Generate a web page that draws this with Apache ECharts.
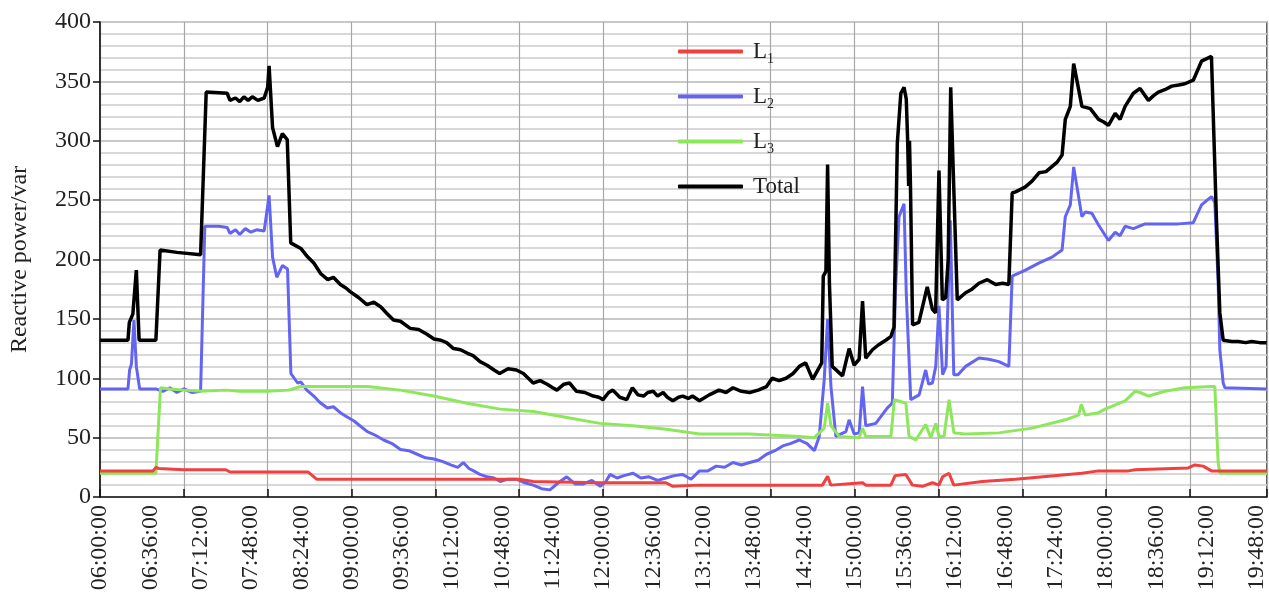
<!DOCTYPE html>
<html>
<head>
<meta charset="utf-8">
<script src="https://cdn.jsdelivr.net/npm/echarts@6/dist/echarts.min.js"></script>
<style>
html,body{margin:0;padding:0;background:#fff;}
#c{width:1269px;height:601px;}
</style>
</head>
<body>
<div id="c"></div>
<script>
// x values: minutes after 06:00:00
const tickLabels = ['06:00:00','06:36:00','07:12:00','07:48:00','08:24:00','09:00:00','09:36:00','10:12:00','10:48:00','11:24:00','12:00:00','12:36:00','13:12:00','13:48:00','14:24:00','15:00:00','15:36:00','16:12:00','16:48:00','17:24:00','18:00:00','18:36:00','19:12:00','19:48:00'];
const yTicks = [0,50,100,150,200,250,300,350,400];

const dataL1 = [[0,22],[38,22],[40,25],[42,24],[60,23],[90,23],[93,21],[149,21],[155,15],[300,15],[310,13],[358,12],[405,12],[410,9],[429,10],[517,10],[520.7,17.5],[523,10],[545.7,12],[548,10],[566,10],[569,18],[576.7,19],[581.4,10],[588.6,9],[595.7,12],[600.4,10],[603,17],[607.6,20],[611,10],[631.4,13],[655.2,15],[679,17.5],[702.7,20],[714.6,22],[736,22],[740.7,23],[778.8,24.5],[783.5,27],[789.5,26],[795.4,22],[835,22]];

const dataL2 = [[0,91],[20,91],[21.2,107],[22.5,112],[24.3,149],[26,110],[28.4,91],[40,91],[45,89],[50,92],[55,88],[60,91],[66,88],[72,89],[75,228],[85,228],[91,227],[93,222],[97,225],[100,221],[104,226],[108,223],[112,225],[117.5,224],[121,254],[123.5,202],[126.5,185],[130.6,195],[134.2,192],[136.6,104],[141.4,96],[143.7,97],
[148,90],[153,85],[157,80],[162.7,75],[167,76],[172,71],[176,68],[181.8,64],[186,60],[191.3,55],[197,52],[203,48],[209,45],[215,40],[221,39],[227,36],[233,33],[239,32],[245,30],[251,27],[256,25],[260,29],[264,24],[267.4,22],[272,19],[277,17],[282,16],[286.4,13],
[292,15],[298,15],[304,12],[310,10],[316,7],[322,6],[328,12],[334,17],[340,11],[346,11],[352,14],[358,9],[362,13],[365,19],[370,16],[375,18],[381.5,20],[387,16],[393,17],[399,14],[405,16],[411,18],[417,19],[423,15],[429,22],
[435,22],[441,26],[447,25],[453,29],[459,27],[465,29],[471,31],[477,36],[483,39],[488.6,43],[494,45],[500.5,48],[506,45],[511.2,39],[514.7,51],[518.3,99],[520.7,150],[523.1,93],[526.6,51],[533.8,55],[536.1,65],[539.7,53],[543.3,54],[545.7,93],[548,60],[555.2,62],[563.5,75],[567,79],[569.4,177],[571.8,236],[575.4,247],[577,171],[580.2,82],[586.2,86],[590.9,107],[593,95],[595.7,96],[598.1,110],[600.4,161],[603,103],[605.5,110],[608.5,233],[611,103],[614,103],[619.5,110],[629,117],[636,116],[643.3,114],[650.4,110],[652.8,186],[662.3,191],[671.8,197],[681.3,202],[688.5,208],[690.8,236],[694.4,246],[696.8,278],[702.7,236],[705.1,240],[709.8,239],[714.6,229],[721.7,216],[726.5,223],[730,220],[733.6,228],[739.5,226],[747.9,230],[760,230],[771.7,230],[782.4,231],[788.3,246],[795.4,253],[797.8,248],[800.2,180],[801.4,124],[803.8,96],[805,92],[835,91]];

const dataL3 = [[0,20],[40,20],[43.3,92],[50,91],[60,90],[72,89],[90,90],[100,89],[120,89],[135,90],[143.7,93],[167.5,93],[191.3,93],[215,90],[238.8,85],[262.6,79],[286.4,74],[310.2,72],[334,67],[357.8,62],[381.5,60],[405.3,57],[429.1,53],[464.8,53],[500.5,51],[511.2,50],[518.3,58],[520.7,79],[523.1,60],[529,51],[543.3,50],[545.7,58],[548,51],[566,51],[568.5,82],[576.7,79],[579,51],[583.8,48],[590.9,61],[594.5,50],[598.1,62],[600.4,51],[604,51],[607.6,82],[611.1,54],[619.5,53],[643.3,54],[667,58],[690.8,65],[700.3,69],[702.2,78],[705.1,69],[714.6,71],[719.3,74],[733.6,81],[740.7,89],[744.3,88],[750.3,85],[762.1,89],[776.4,92],[795.4,93],[797.8,93],[800.2,29],[801.4,20],[835,20]];

const dataTotal = [[0,132],[20,132],[21,147],[23.5,154],[26,191],[28,132],[40,132],[43,208],[55,206],[72,204],[76,341],[91,340],[93,334],[97,336],[100,333],[103,337],[106,334],[109,337],[113,334],[117.5,336],[120,345],[121,363],[123.5,311],[127,295],[130.5,306],[134,301],[136.5,214],[144,209],
[148,203],[153,197],[158,188],[163,183],[167,185],[172,179],[176,176],[179,173],[185,168],[191,162],[196,164],[201,160],[205,155],[210,149],[215,148],[222,142],[228,141],[234,137],[239,133],[244,132],[248,130],[253,125],[258,124],[263,121],[267,119],[272,114],[277,111],[282,107],[286,104],[292,108],[298,107],[303,104],[310,96],[315,98],[320,95],[324,92],[327,90],[332,95],[336,96],[341,89],[347,88],[353,85],[357,84],[360,82],[364,88],[367,90],[372,84],[377,82],[381,92],[385,86],[389,85],[392,88],[396,89],[399,85],[403,88],[406,84],[410,81],[414,84],[417,85],[421,83],[424,85],[429,81],[436,86],[443,90],[448,88],[453,92],[459,89],[465,88],[471,90],[477,93],[481,100],[486,98],[491,100],[496,104],[500.5,110],[505,113],[510,99],[516.5,113],[517.6,186],[519.5,190],[520.7,280],[522,180],[524,110],[531.4,102],[536.1,125],[539.7,111],[543.3,116],[545.7,165],[548,117],[552.8,124],[557,128],[562.3,132],[565.9,135],[568.2,143],[570.6,298],[573.1,340],[575.4,345],[577,335],[578,300],[578.7,262],[579.3,300],[580,262],[581.5,145],[586,147],[592,177],[595.7,158],[598,155],[600.4,275],[602.8,166],[605.2,168],[607,200],[608.8,345],[611,260],[613.5,166],[619.5,172],[624,175],[629,180],[635,183],[641,179],[646,180],[650.4,179],[652.8,256],[655.2,257],[662,261],[667,266],[672,273],[677,274],[681,278],[685,282],[688.5,288],[690.8,318],[694.4,329],[696.8,365],[702.7,329],[708.7,327],[714.6,318],[718,316],[721.7,313],[726.5,323],[730,318],[733.6,329],[739.5,340],[744.3,344],[750.3,334],[754,338],[757.4,341],[762,343],[767,346],[772,347],[776.4,348],[782.4,351],[788.3,367],[795.4,371],[796.6,371],[799,233],[801.4,155],[803.8,132],[810,131],[814.5,131],[820,130],[824,131],[830,130],[835,130]];

const FONT = '"Liberation Serif","Times New Roman",serif';
const chart = echarts.init(document.getElementById('c'), null, {renderer:'canvas'});
const mk = (name, data, color, w) => ({
  name, type:'line', data, xAxisIndex:0, yAxisIndex:0, symbol:'none', showSymbol:false,
  lineStyle:{color, width:w}, itemStyle:{color}, animation:false
});
chart.setOption({
  animation:false,
  backgroundColor:'#fff',
  grid:{left:99, right:0, top:22, bottom:104, show:true, borderColor:'#555', borderWidth:1.5, backgroundColor:'transparent'},
  legend:{
    orient:'vertical', left:673, top:35, icon:'roundRect', itemWidth:65, itemHeight:4, itemGap:18.5,
    data:['L1','L2','L3','Total'],
    formatter: n => n.length === 2 ? '{m|L}{s|' + n[1] + '}' : '{m|' + n + '}',
    textStyle:{fontFamily:FONT, color:'#222',
      rich:{
        m:{fontFamily:FONT, fontSize:23, color:'#222', lineHeight:30, verticalAlign:'middle', padding:[0,0,0,5]},
        s:{fontFamily:FONT, fontSize:14, color:'#222', lineHeight:14, verticalAlign:'bottom'}
      }}
  },
  xAxis:[
    {type:'value', min:0, max:835, interval:36, position:'bottom',
     axisLine:{show:true, lineStyle:{color:'#111', width:1.5}},
     axisTick:{show:false}, splitLine:{show:false},
     axisLabel:{rotate:90, margin:8, fontFamily:FONT, fontSize:24, color:'#222', showMaxLabel:false,
       formatter: v => (v % 36 === 0 && tickLabels[v/36]) ? tickLabels[v/36] : ''}},
    {type:'value', min:0, max:835, interval:60, position:'bottom',
     axisLine:{show:false}, axisLabel:{show:false},
     axisTick:{show:true, inside:true, length:8, lineStyle:{color:'#111', width:1.5}},
     splitLine:{show:true, lineStyle:{color:'#a8a8a8', width:1.2}}}
  ],
  yAxis:{type:'value', min:yTicks[0], max:yTicks[yTicks.length-1], interval:50,
    name:'Reactive power/var', nameLocation:'middle', nameGap:68, nameRotate:90,
    nameTextStyle:{fontFamily:FONT, fontSize:24, color:'#222'},
    axisLine:{show:true, lineStyle:{color:'#111', width:1.5}},
    axisTick:{show:true, length:7, lineStyle:{color:'#111', width:1.5}},
    axisLabel:{fontFamily:FONT, fontSize:24, color:'#222', margin:9},
    splitLine:{show:true, lineStyle:{color:'#c8c8c8', width:1.8}},
    minorTick:{show:false, splitNumber:5},
    minorSplitLine:{show:true, lineStyle:{color:'#d8d8d8', width:1.8}}
  },
  series:[
    mk('L2', dataL2, '#6464f2', 3),
    mk('L3', dataL3, '#8ce85a', 3),
    mk('L1', dataL1, '#f04040', 3),
    mk('Total', dataTotal, '#000000', 3.5)
  ]
});
</script>
</body>
</html>
